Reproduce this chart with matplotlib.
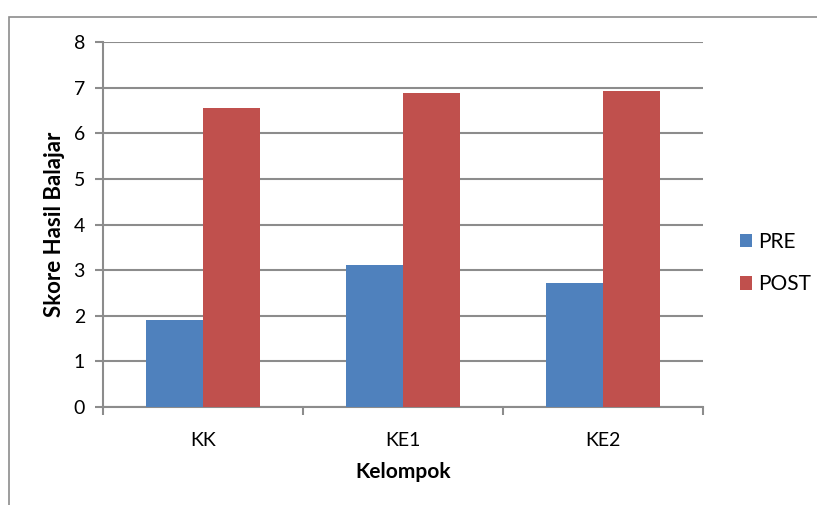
import matplotlib
matplotlib.use("Agg")
import matplotlib.pyplot as plt
import numpy as np
from matplotlib.patches import Rectangle

categories = ["KK", "KE1", "KE2"]
pre = [1.90, 3.12, 2.71]
post = [6.56, 6.88, 6.93]
yticks = [0, 1, 2, 3, 4, 5, 6, 7, 8]

plt.rcParams['font.family'] = ['Lato', 'DejaVu Sans']

W, H = 817, 505
fig = plt.figure(figsize=(W/100, H/100), dpi=100)
fig.patch.set_facecolor("white")

# outer chart frame (cropped on right/bottom)
fig.patches.append(Rectangle((9/W, -0.1), 1.2, 1 - 17/H + 0.1, transform=fig.transFigure,
                             fill=False, edgecolor="#8c8c8c", lw=1.2))

ax = fig.add_axes([103/W, 1 - 407/H, 600/W, 365/H])
x = np.arange(len(categories))
bw = 0.285
grey = "#8c8c8c"
ax.bar(x - bw/2, pre, bw, color="#4F81BD", label="PRE", zorder=3)
ax.bar(x + bw/2, post, bw, color="#C0504D", label="POST", zorder=3)

fs = 14
ax.set_xlim(-0.5, 2.5)
ax.set_ylim(0, 8)
ax.set_yticks(yticks)
ax.set_yticklabels([str(v) for v in yticks], fontsize=fs)
ax.yaxis.grid(True, color=grey, lw=1.5, zorder=0)
ax.set_xticks(x)
ax.set_xticklabels(categories, fontsize=fs)
ax.set_xticks([-0.5, 0.5, 1.5, 2.5], minor=True)
ax.tick_params(axis='x', which='major', length=0, pad=18)
ax.tick_params(axis='x', which='minor', length=6, width=1.5, color=grey, direction='out')
ax.tick_params(axis='y', length=6, width=1.5, color=grey, direction='out', pad=7)
for s in ["top", "right"]:
    ax.spines[s].set_visible(False)
for s in ["left", "bottom"]:
    ax.spines[s].set_color(grey)
    ax.spines[s].set_linewidth(1.5)

ax.set_ylabel("Skore Hasil Balajar", fontsize=16, fontweight='bold', labelpad=6)
ax.set_xlabel("Kelompok", fontsize=15, fontweight='bold', labelpad=9)

leg = fig.legend(loc="center left", bbox_to_anchor=(721/W, 1 - 263/H), frameon=False,
                 fontsize=15, handlelength=0.6, handleheight=0.6, handletextpad=0.3,
                 labelspacing=1.1)

fig.savefig("out.png", dpi=100, facecolor="white")
